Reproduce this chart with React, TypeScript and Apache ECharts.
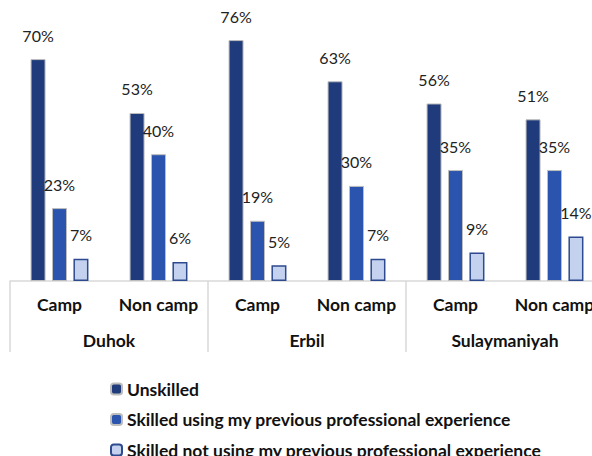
import React, { useEffect, useRef } from "react";
import * as echarts from "echarts";

const subCategories = ["Camp", "Non camp", "Camp", "Non camp", "Camp", "Non camp"];
const regions = ["Duhok", "Erbil", "Sulaymaniyah"];
const seriesNames = [
  "Unskilled",
  "Skilled using my previous professional experience",
  "Skilled not using my previous professional experience",
];
const unskilled = [70, 53, 76, 63, 56, 51];
const skilledUsing = [23, 40, 19, 30, 35, 35];
const skilledNotUsing = [7, 6, 5, 7, 9, 14];

const FONT = "Lato";

export default function App() {
  const ref = useRef<HTMLDivElement>(null);
  useEffect(() => {
    const chart = echarts.init(ref.current!, null, { renderer: "svg" });
    const label = {
      show: true,
      position: "top",
      distance: 16,
      fontSize: 16,
      fontFamily: FONT,
      color: "#222",
      formatter: "{c}%",
    };
    const mk = (name: string, data: number[], color: string, border: string, bw: number) => ({
      name,
      type: "bar",
      data,
      barWidth: 15,
      barGap: "43%",
      label,
      itemStyle: { color, borderColor: border, borderWidth: bw },
    });
    chart.setOption({
      animation: false,
      grid: {
        left: 10,
        width: 594,
        bottom: 175,
        height: 317,
        containLabel: false,
        outerBoundsMode: "none",
      },
      legend: {
        orient: "vertical",
        left: 110,
        top: 380,
        height: 120,
        padding: 0,
        itemWidth: 11,
        itemHeight: 11,
        itemGap: 12.5,
        textStyle: {
          fontFamily: FONT,
          fontWeight: "bold",
          fontSize: 17.5,
          lineHeight: 17,
          color: "#111",
        },
        data: seriesNames,
      },
      xAxis: [
        {
          type: "category",
          data: subCategories,
          position: "bottom",
          axisLine: { show: true, lineStyle: { color: "#D9D9D9", width: 1.5 } },
          axisTick: { show: false },
          axisLabel: {
            margin: 14,
            fontFamily: FONT,
            fontWeight: "bold",
            fontSize: 17.5,
            color: "#111",
            interval: 0,
          },
        },
        {
          type: "category",
          data: regions,
          position: "bottom",
          offset: 71,
          axisLine: { show: false },
          axisTick: {
            show: true,
            inside: true,
            length: 71,
            lineStyle: { color: "#D9D9D9", width: 1.5 },
          },
          axisLabel: {
            inside: true,
            margin: 3,
            fontFamily: FONT,
            fontWeight: "bold",
            fontSize: 17.5,
            color: "#111",
            interval: 0,
          },
        },
      ],
      yAxis: {
        type: "value",
        min: 0,
        max: 100,
        show: false,
        splitLine: { show: false },
      },
      series: [
        mk(seriesNames[0], unskilled, "#1F3B7B", "#BDBDBD", 1),
        mk(seriesNames[1], skilledUsing, "#2B54AE", "#BDBDBD", 1),
        mk(seriesNames[2], skilledNotUsing, "#C4D2EF", "#2D4A8E", 1.5),
      ],
    });
    return () => chart.dispose();
  }, []);
  return (
    <div
      ref={ref}
      style={{ position: "fixed", left: 0, top: 0, width: 592, height: 456, background: "#fff" }}
    />
  );
}
